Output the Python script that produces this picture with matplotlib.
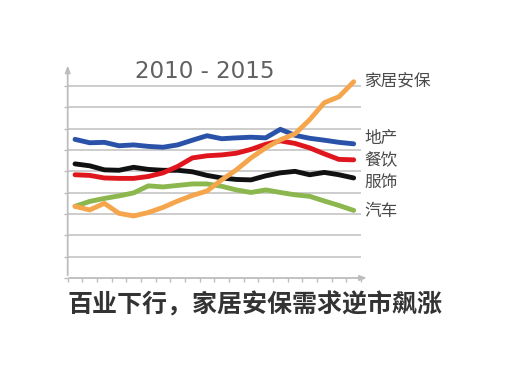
import matplotlib
matplotlib.use("Agg")
import matplotlib.pyplot as plt
import numpy as np

plt.rcParams['font.family'] = ['Noto Sans CJK SC', 'DejaVu Sans']

title = "2010 - 2015"
caption = "百业下行，家居安保需求逆市飙涨"
series_names = ["家居安保", "地产", "餐饮", "服饰", "汽车"]
series_colors = ["#f5a64c", "#2a52a8", "#e0161e", "#111111", "#8bb74e"]

home_security = [3.36, 3.19, 3.50, 3.03, 2.91, 3.07, 3.31, 3.61, 3.87, 4.08,
                 4.60, 5.07, 5.63, 6.10, 6.48, 6.76, 7.42, 8.22, 8.50, 9.20]
real_estate = [6.50, 6.34, 6.36, 6.20, 6.24, 6.17, 6.13, 6.24, 6.46, 6.67,
               6.53, 6.57, 6.60, 6.57, 6.97, 6.69, 6.55, 6.46, 6.36, 6.29]
catering = [4.84, 4.81, 4.69, 4.67, 4.67, 4.76, 4.93, 5.23, 5.63, 5.73,
            5.77, 5.85, 6.03, 6.27, 6.43, 6.31, 6.10, 5.82, 5.56, 5.54]
apparel = [5.35, 5.26, 5.07, 5.05, 5.19, 5.09, 5.05, 5.05, 4.98, 4.81,
           4.69, 4.62, 4.60, 4.79, 4.93, 5.00, 4.84, 4.95, 4.84, 4.69]
auto = [3.36, 3.59, 3.73, 3.85, 3.99, 4.32, 4.27, 4.34, 4.41, 4.41,
        4.30, 4.13, 4.01, 4.13, 4.01, 3.90, 3.83, 3.61, 3.40, 3.17]

label_y = [9.25, 6.55, 5.55, 4.5, 3.1]

all_series = [home_security, real_estate, catering, apparel, auto]

fig = plt.figure(figsize=(5.07, 3.65), dpi=100)
ax = fig.add_axes([67.7/507, 1-278/365, (361-67.7)/507, (278-64.7)/365])

n = len(home_security)
x = np.arange(n) + 0.5
ax.set_xlim(0, n)
ax.set_ylim(0, 10)

grid_c = "#c9c9c9"
for g in range(1, 10):
    ax.axhline(g, color=grid_c, lw=1.3, zorder=1)

order = [4, 3, 2, 1, 0]
for i in order:
    ax.plot(x, all_series[i], color=series_colors[i], lw=3.5, zorder=3,
            solid_capstyle='round', solid_joinstyle='round')

for name, ly in zip(series_names, label_y):
    ax.text(n + 0.25, ly, name, fontsize=12, color="#4a4a4a",
            va='center', ha='left', clip_on=False)

for s in ax.spines.values():
    s.set_visible(False)

axis_c = "#bdbdbd"
ax.annotate("", xy=(0, 10.1), xytext=(0, 0), xycoords='data',
            arrowprops=dict(arrowstyle='-|>,head_length=0.4,head_width=0.15',
                            color=axis_c, lw=1.3), annotation_clip=False)
ax.annotate("", xy=(20.6, 0), xytext=(-0.1, 0), xycoords='data',
            arrowprops=dict(arrowstyle='-|>,head_length=0.4,head_width=0.15',
                            color=axis_c, lw=1.3), annotation_clip=False)

ax.set_xticks(np.arange(0, n + 1))
ax.set_yticks(np.arange(0, 10))
ax.set_xticklabels([])
ax.set_yticklabels([])
ax.tick_params(axis='x', direction='out', length=3, color=axis_c, width=1)
ax.tick_params(axis='y', direction='out', length=3, color=axis_c, width=1)
ax.set_facecolor('none')

fig.text(205/507, 1-71/365, title, fontsize=16.6, color="#606060",
         ha='center', va='center', family=['DejaVu Sans'])
fig.text(255/507, 1-305/365, caption, fontsize=18, color="#333333",
         ha='center', va='center', fontweight='bold')

fig.savefig("out.png", dpi=100)
